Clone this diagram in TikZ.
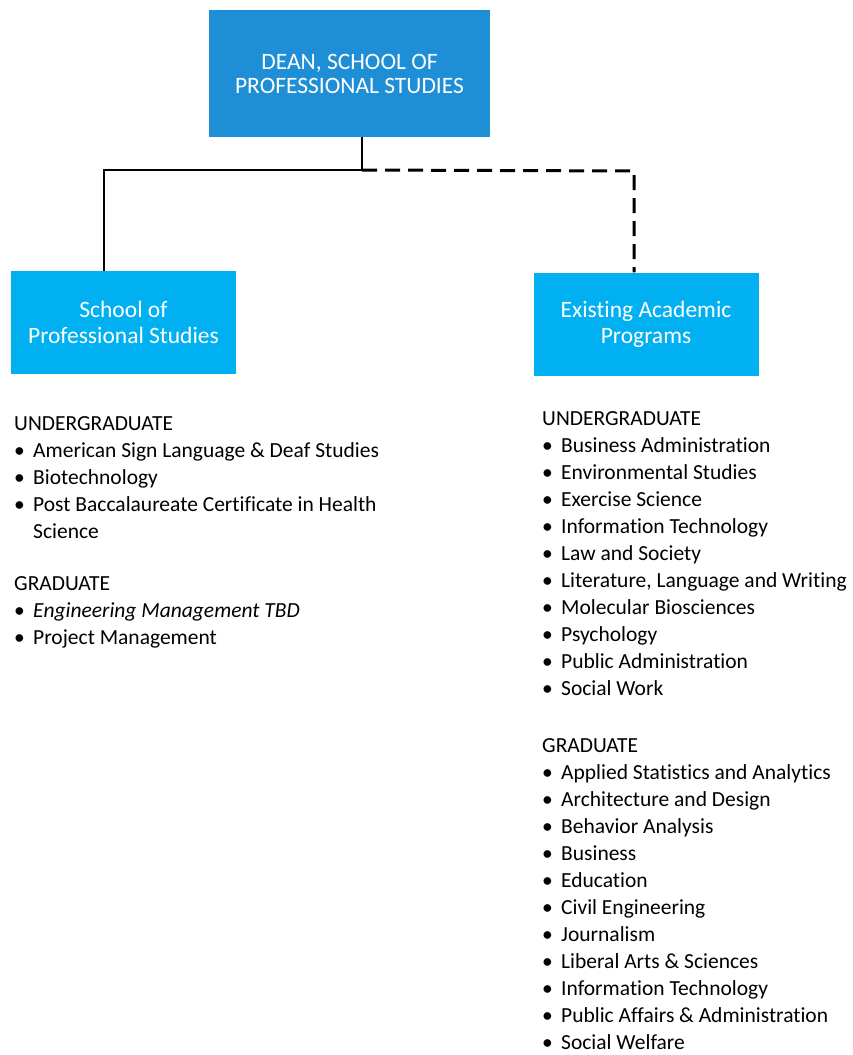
\documentclass[tikz,border=0pt]{standalone}
\usepackage{fontspec}
\setmainfont{Carlito}[Ligatures=NoCommon]
\usetikzlibrary{positioning}
\definecolor{deanblue}{RGB}{30,142,214}
\definecolor{unitblue}{RGB}{0,176,240}
\newcommand{\itm}{\makebox[19pt][l]{\textbullet}}
\newcommand{\hdr}[1]{\rule{0pt}{20pt}#1}
\begin{document}
\begin{tikzpicture}[x=1pt,y=-1pt,
        deanbox/.style={fill=deanblue, text=white, minimum width=281pt, minimum height=127pt, align=center, font=\fontsize{23.5}{24}\selectfont},
        unitbox/.style={fill=unitblue, text=white, minimum width=225pt, minimum height=103pt, align=center, font=\fontsize{23.5}{26}\selectfont},
        progs/.style={anchor=north west, align=left, inner sep=0pt, font=\fontsize{21.5}{27}\selectfont}]
        \useasboundingbox (0,0) rectangle (853,1055);
        \node[deanbox] (dean) at (349.5,73.5) {DEAN, SCHOOL OF\\PROFESSIONAL STUDIES};
        \node[unitbox] (sops) at (123.5,322.5) {School of\\Professional Studies};
        \node[unitbox] (eap) at (646,324) {Existing Academic\\Programs};

        \coordinate (split) at (362,170);
        \coordinate (ljoin) at (104,170);
        \coordinate (rjoin) at (634,171);

        \draw[line width=2.5pt] (dean.south -| split) -- (split);
        \draw[line width=1.5pt] (split) -- (ljoin) -- (ljoin |- sops.north);
        \draw[line width=3pt, dash pattern=on 15pt off 8pt] (split) -- (rjoin) -- (rjoin |- eap.north);

        % program lists (header baseline 20pt below the node top)
        \node[progs] (sopsug) at (14,410) {\hdr{UNDERGRADUATE}\\\itm American Sign Language \& Deaf Studies\\\itm Biotechnology\\\itm Post Baccalaureate Certificate in Health\\\hspace*{19pt}Science};
        \node[progs] (sopsgr) at (14,570) {\hdr{GRADUATE}\\\itm \textit{Engineering Management TBD}\\\itm Project Management};

        \node[progs] (eapug) at (542,405) {\hdr{UNDERGRADUATE}\\\itm Business Administration\\\itm Environmental Studies\\\itm Exercise Science\\\itm Information Technology\\\itm Law and Society\\\itm Literature, Language and Writing\\\itm Molecular Biosciences\\\itm Psychology\\\itm Public Administration\\\itm Social Work};
        \node[progs] (eapgr) at (542,732) {\hdr{GRADUATE}\\\itm Applied Statistics and Analytics\\\itm Architecture and Design\\\itm Behavior Analysis\\\itm Business\\\itm Education\\\itm Civil Engineering\\\itm Journalism\\\itm Liberal Arts \& Sciences\\\itm Information Technology\\\itm Public Affairs \& Administration\\\itm Social Welfare};
\end{tikzpicture}
\end{document}
